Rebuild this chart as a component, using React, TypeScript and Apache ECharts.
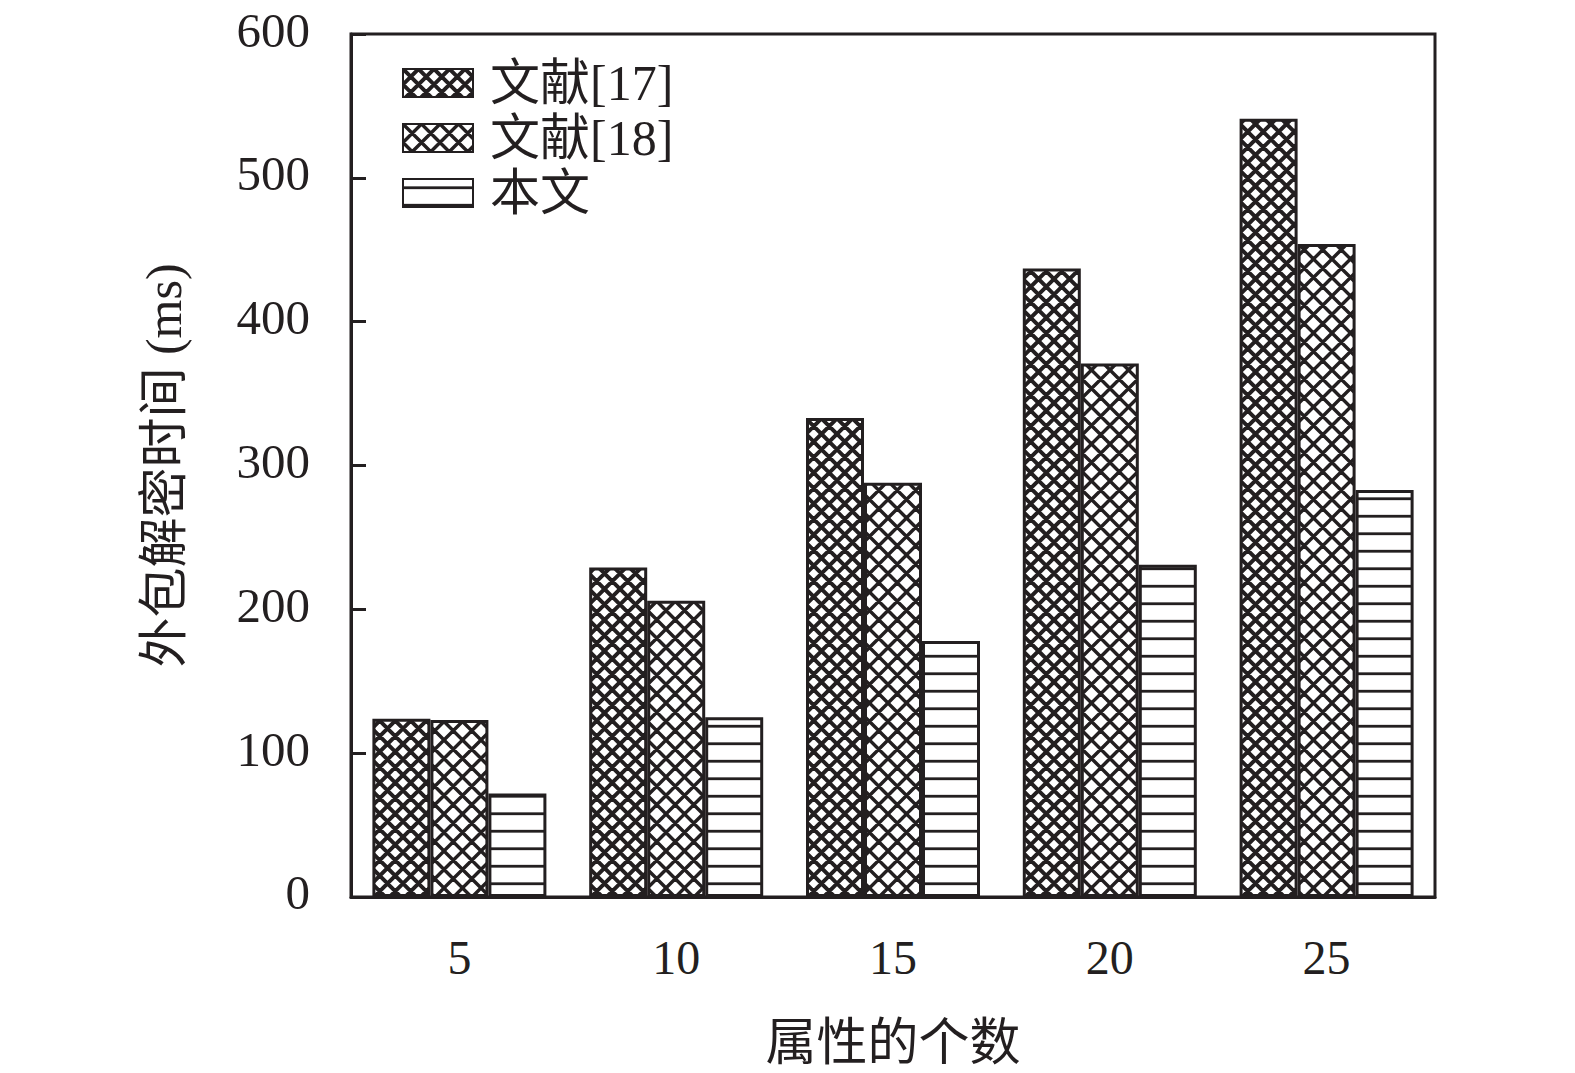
import React, { useEffect, useRef } from "react";
import * as echarts from "echarts";

const categories = ["5", "10", "15", "20", "25"];
const seriesNames = ["文献[17]", "文献[18]", "本文"];
const ref17Values = [124, 229, 333, 437, 541];
const ref18Values = [123, 206, 288, 371, 454];
const oursValues = [72, 125, 178, 231, 283];
const yTicks = { min: 0, max: 600, interval: 100 };

const INK = "#231f20";
const FONT = '"Liberation Serif", "Times New Roman", "Noto Sans CJK SC", serif';

function crossPattern(period: number, lw: number) {
  const T = Math.round(period * 2);
  const p = T / 2;
  const c = document.createElement("canvas");
  c.width = T;
  c.height = T;
  const ctx = c.getContext("2d")!;
  ctx.fillStyle = "#ffffff";
  ctx.fillRect(0, 0, T, T);
  ctx.strokeStyle = INK;
  ctx.lineWidth = lw;
  ctx.beginPath();
  for (let k = -4; k <= 6; k++) {
    const o = k * p;
    ctx.moveTo(o - T, -T);
    ctx.lineTo(o + 2 * T, 2 * T);
    ctx.moveTo(o + T, -T);
    ctx.lineTo(o - 2 * T, 2 * T);
  }
  ctx.stroke();
  return { image: c, repeat: "repeat" };
}

function hLinePattern(period: number, lw: number) {
  const T = Math.round(period * 2);
  const c = document.createElement("canvas");
  c.width = 8;
  c.height = T;
  const ctx = c.getContext("2d")!;
  ctx.fillStyle = "#ffffff";
  ctx.fillRect(0, 0, 8, T);
  ctx.fillStyle = INK;
  ctx.fillRect(0, T / 4 - lw / 2, 8, lw);
  ctx.fillRect(0, (3 * T) / 4 - lw / 2, 8, lw);
  return { image: c, repeat: "repeat" };
}

export default function App() {
  const ref = useRef<HTMLDivElement>(null);
  useEffect(() => {
    if (!ref.current) return;
    const chart = echarts.init(ref.current, undefined, { renderer: "svg" });
    const patterns = [crossPattern(15.5, 4), crossPattern(18.5, 3.4), hLinePattern(17.5, 2.8)];
    const data = [ref17Values, ref18Values, oursValues];
    chart.setOption({
      animation: false,
      backgroundColor: "#ffffff",
      grid: {
        left: 351,
        right: 140,
        top: 34,
        bottom: 174,
        show: true,
        borderColor: INK,
        borderWidth: 3,
        backgroundColor: "transparent",
      },
      legend: {
        left: 397,
        top: 53,
        orient: "vertical",
        icon: "rect",
        itemWidth: 70,
        itemHeight: 28,
        itemGap: 5,
        data: seriesNames,
        textStyle: { fontFamily: FONT, fontSize: 50, color: INK, lineHeight: 48, padding: [0, 0, 0, 12] },
      },
      xAxis: {
        type: "category",
        data: categories,
        z: 3,
        name: "属性的个数",
        nameLocation: "middle",
        nameGap: 120,
        nameTextStyle: { fontFamily: FONT, fontSize: 51, color: INK },
        axisLine: { lineStyle: { color: INK, width: 3 } },
        axisTick: { inside: true, alignWithLabel: true, length: 10, lineStyle: { color: "#555", width: 2 } },
        axisLabel: { fontFamily: FONT, fontSize: 48, color: INK, margin: 36 },
        splitLine: { show: false },
      },
      yAxis: {
        type: "value",
        min: yTicks.min,
        max: yTicks.max,
        interval: yTicks.interval,
        name: "外包解密时间 (ms)",
        nameLocation: "middle",
        nameGap: 162,
        nameTextStyle: { fontFamily: FONT, fontSize: 50, color: INK },
        axisLine: { show: true, lineStyle: { color: INK, width: 3 } },
        axisTick: { show: true, inside: true, length: 15, lineStyle: { color: INK, width: 3 } },
        axisLabel: {
          fontFamily: FONT,
          fontSize: 49,
          color: INK,
          margin: 41,
          verticalAlign: "bottom",
          lineHeight: 8,
        },
        splitLine: { show: false },
      },
      series: seriesNames.map((name, i) => ({
        name,
        type: "bar",
        data: data[i],
        barWidth: 58,
        barGap: "0%",
        itemStyle: { color: patterns[i], borderColor: INK, borderWidth: 3 },
      })),
    });
    return () => chart.dispose();
  }, []);
  return (
    <div
      ref={ref}
      style={{ position: "fixed", left: 0, top: 0, width: 1575, height: 1073, background: "#fff" }}
    />
  );
}
